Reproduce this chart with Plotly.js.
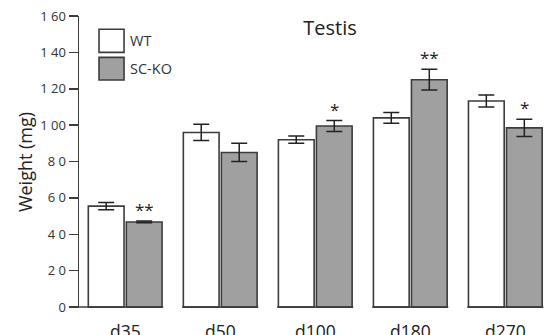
<!DOCTYPE html>
<html><head><meta charset="utf-8">
<script src="https://cdn.plot.ly/plotly-3.0.1.min.js"></script>
<style>html,body{margin:0;padding:0;background:#fff}#chart{width:550px;height:335px}</style>
</head><body><div id="chart"></div>
<script>
const categories = ['d35','d50','d100','d180','d270'];
const wtValues = [55.5, 96, 92, 104, 113.3];
const wtErrors = [2, 4.5, 2, 3, 3.3];
const koValues = [46.8, 85, 99.5, 125, 98.5];
const koErrors = [0.5, 5, 3, 5.7, 4.8];
const significance = ['**', '', '*', '**', '*'];
const yTickVals = [0,20,40,60,80,100,120,140,160];
const yTickText = ['0','2 0','4 0','6 0','8 0','1 00','1 20','1 40','1 60'];

const edge = '#3c3c3c';
const font = 'Open Sans, Noto Sans, sans-serif';
const xRange = [-0.486, 4.47];
const yRange = [-0.5, 160];
const idx = categories.map((c,i)=>i);          // category positions on the x axis
const barCenters = [];
idx.forEach(i=>{ barCenters.push(i-0.2, i+0.2); });

const margin = {l:79, r:0.4, t:16, b:27.3};
const plotH = 335 - margin.t - margin.b;
const pxPerUnit = plotH / (yRange[1] - yRange[0]);
const tickCenterY = -(4 + (0 - yRange[0]) * pxPerUnit) / pxPerUnit; // 4 px below plot bottom

const traces = [
  {type:'bar', name:'WT', x:idx, y:wtValues,
   marker:{color:'#ffffff', line:{color:edge, width:1.6}},
   error_y:{type:'data', array:wtErrors, visible:true, color:'#222', thickness:1.5, width:8}},
  {type:'bar', name:'SC-KO', x:idx, y:koValues,
   marker:{color:'#a0a0a0', line:{color:edge, width:1.6}},
   error_y:{type:'data', array:koErrors, visible:true, color:'#222', thickness:1.5, width:8}},
  // tick marks under each bar centre
  {type:'scatter', mode:'markers', x:barCenters, y:barCenters.map(()=>tickCenterY), cliponaxis:false,
   marker:{symbol:'line-ns', size:8, color:edge, line:{width:1.5, color:edge}}, hoverinfo:'skip', showlegend:false}
];

const shapes = [];
idx.forEach(i=>{
  shapes.push({type:'line', xref:'x', yref:'y', x0:(i===0?xRange[0]:i-0.4), x1:i+0.4, y0:0, y1:0,
    line:{color:edge, width:1.5}});
});
// legend boxes
shapes.push({type:'rect', xref:'paper', yref:'paper', x0:(99-79)/470.6, x1:(124-79)/470.6,
  y0:(307.7-52.3)/291.7, y1:(307.7-29.3)/291.7, fillcolor:'#ffffff', line:{color:edge, width:1.6}});
shapes.push({type:'rect', xref:'paper', yref:'paper', x0:(99-79)/470.6, x1:(124-79)/470.6,
  y0:(307.7-80)/291.7, y1:(307.7-57.3)/291.7, fillcolor:'#a0a0a0', line:{color:edge, width:1.6}});

const annotations = [];
idx.forEach(i=>{
  if (significance[i]) {
    annotations.push({xref:'x', yref:'y', x:i+0.2, y:koValues[i]+koErrors[i], text:significance[i],
      showarrow:false, yanchor:'bottom', yshift:-2, font:{family:font, size:17, color:'#222'}});
  }
  annotations.push({xref:'x', yref:'paper', x:i, y:0, yanchor:'top', yshift:-9, text:categories[i],
    showarrow:false, font:{family:font, size:17.5, color:'#222'}});
});
annotations.push({xref:'paper', yref:'paper', x:(128-79)/470.6, y:(307.7-40.5)/291.7, xanchor:'left', yanchor:'middle',
  text:'WT', showarrow:false, font:{family:font, size:14.5, color:'#333'}});
annotations.push({xref:'paper', yref:'paper', x:(128-79)/470.6, y:(307.7-68)/291.7, xanchor:'left', yanchor:'middle',
  text:'SC-KO', showarrow:false, font:{family:font, size:14.5, color:'#333'}});

const layout = {
  width:550, height:335,
  margin:margin,
  paper_bgcolor:'#fff', plot_bgcolor:'#fff',
  showlegend:false,
  barmode:'group', bargap:0.2, bargroupgap:0.06,
  title:{text:'Testis', font:{family:font, size:20, color:'#222'}, xref:'container', yref:'container',
    x:330/550, xanchor:'center', y:1-28/335, yanchor:'middle'},
  font:{family:font, color:'#333'},
  xaxis:{type:'linear', range:xRange, showline:false, zeroline:false, showgrid:false,
    tickmode:'array', tickvals:barCenters, showticklabels:false, ticks:''},
  yaxis:{range:yRange, tickvals:yTickVals, ticktext:yTickText, showline:true, linecolor:edge, linewidth:1.5,
    ticks:'outside', ticklen:9, tickwidth:1.5, tickcolor:edge, showgrid:false, zeroline:false,
    tickfont:{family:font, size:13, color:'#333'},
    title:{text:'Weight (mg)', font:{family:font, size:18, color:'#222'}, standoff:3}},
  shapes:shapes, annotations:annotations
};
Plotly.newPlot('chart', traces, layout, {staticPlot:true, displayModeBar:false});
</script></body></html>
